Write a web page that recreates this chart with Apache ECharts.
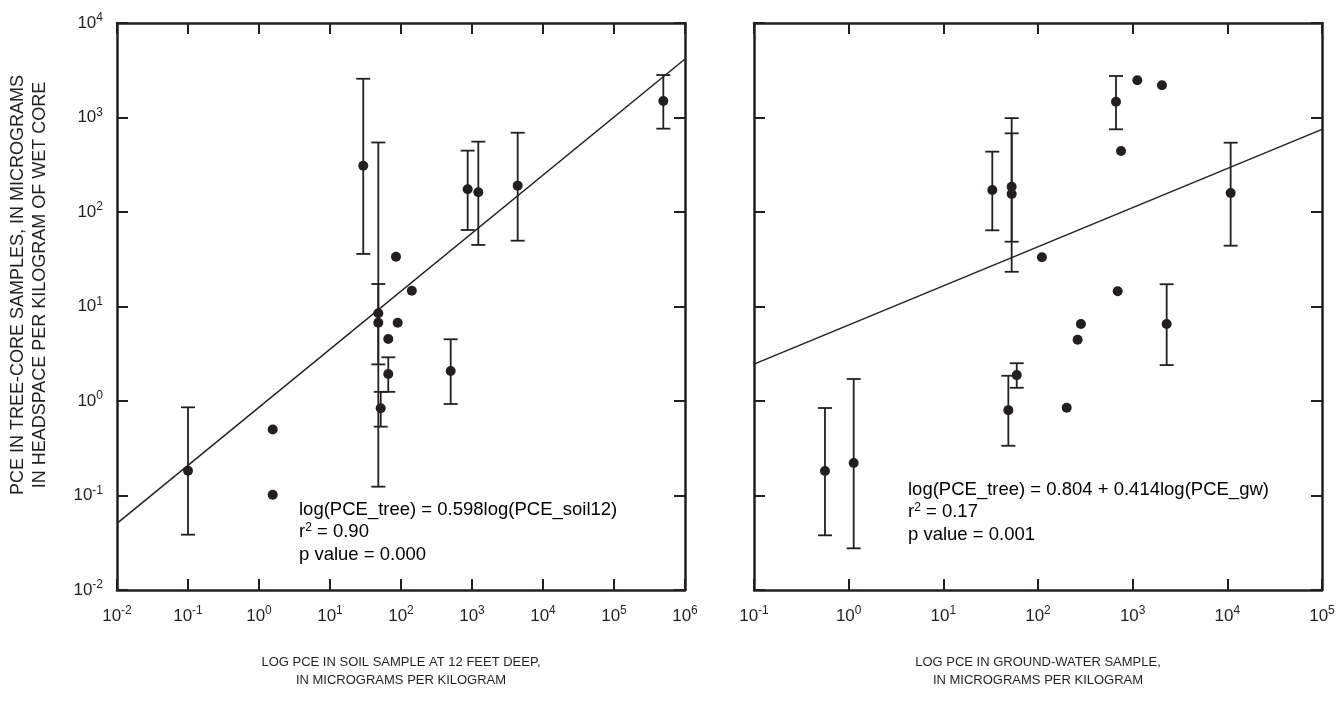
<!DOCTYPE html>
<html>
<head>
<meta charset="utf-8">
<script src="https://cdn.jsdelivr.net/npm/echarts@6/dist/echarts.min.js"></script>
<style>html,body{margin:0;padding:0;background:#fff}#c{width:1343px;height:702px}</style>
</head>
<body>
<div id="c"></div>
<script>
// ---- Data ----
// Left panel: soil at 12 ft vs tree core
const soilX = [0.1, 1.56, 1.56, 29.4, 47.9, 47.9, 51.8, 66.2, 66.2, 89.8, 85, 142, 501, 869, 1227, 4400, 495000];
const soilY = [0.183, 0.50, 0.102, 309, 8.47, 6.74, 0.837, 4.53, 1.93, 6.74, 33.6, 14.7, 2.08, 174, 162, 190, 1495];
const soilErrX    = [0.1, 29.4, 47.9, 47.9, 51.8, 66.2, 501, 869, 1227, 4400, 495000];
const soilErrLow  = [0.0385, 36, 0.124, 2.44, 0.535, 1.25, 0.93, 64.5, 44.8, 49.7, 762];
const soilErrHigh = [0.857, 2570, 544, 17.3, 1.25, 2.90, 4.5, 446, 555, 690, 2815];
const soilFitX = [0.01, 1e6];
const soilFitY = [0.0508, 4160];

// Right panel: ground water vs tree core
const gwX = [0.562, 1.13, 48.6, 59.6, 32.9, 52.7, 52.7, 110, 667, 1120, 2040, 753, 10840, 695, 2287, 284, 262, 201];
const gwY = [0.182, 0.221, 0.80, 1.88, 171, 185, 155, 33.2, 1470, 2474, 2190, 442, 159, 14.5, 6.53, 6.53, 4.45, 0.85];
const gwErrX    = [0.562, 1.13, 48.6, 59.6, 32.9, 52.7, 52.7, 667, 10840, 2287];
const gwErrLow  = [0.0379, 0.0276, 0.336, 1.38, 64, 48.5, 23.3, 750, 44, 2.40];
const gwErrHigh = [0.843, 1.71, 1.85, 2.51, 435, 680, 985, 2750, 541, 17.2];
const gwFitX = [0.1, 1e5];
const gwFitY = [2.455, 748];

const yRange = [0.01, 1e4];
const leftXRange = [0.01, 1e6];
const rightXRange = [0.1, 1e5];

const leftXTitle = 'LOG PCE IN SOIL SAMPLE AT 12 FEET DEEP,\nIN MICROGRAMS PER KILOGRAM';
const rightXTitle = 'LOG PCE IN GROUND-WATER SAMPLE,\nIN MICROGRAMS PER KILOGRAM';
const yTitle = 'PCE IN TREE-CORE SAMPLES, IN MICROGRAMS\nIN HEADSPACE PER KILOGRAM OF WET CORE';
const leftEq = ['log(PCE_tree) = 0.598log(PCE_soil12)', '0.90', '0.000'];
const rightEq = ['log(PCE_tree) = 0.804 + 0.414log(PCE_gw)', '0.17', '0.001'];

// ---- Styling ----
const INK = '#231f20';
const FONT = 'Liberation Sans, Arial, Helvetica, sans-serif';
const supRich = {
  b: {fontSize: 17, fontFamily: FONT, color: INK, lineHeight: 22},
  s: {fontSize: 12, fontFamily: FONT, color: INK, padding: [0, 0, 10, 0], lineHeight: 22}
};
function powLabel(v) {
  const e = Math.round(Math.log10(v));
  return '{b|10}{s|' + e + '}';
}
const zip = (a, b) => a.map((v, i) => [v, b[i]]);
const zip3 = (a, b, c) => a.map((v, i) => [v, b[i], c[i]]);

function xAxisDef(grid, range, pos, labels) {
  return {
    gridIndex: grid, type: 'log', logBase: 10, min: range[0], max: range[1], interval: 1,
    position: pos,
    axisLine: {show: true, onZero: false, lineStyle: {color: INK, width: 2.5}},
    axisTick: {show: true, inside: true, length: 11, lineStyle: {color: INK, width: 2}},
    minorTick: {show: false},
    splitLine: {show: false},
    axisLabel: {show: labels, margin: 15, formatter: powLabel, rich: supRich}
  };
}
function yAxisDef(grid, pos, labels) {
  return {
    gridIndex: grid, type: 'log', logBase: 10, min: yRange[0], max: yRange[1], interval: 1,
    position: pos,
    axisLine: {show: true, onZero: false, lineStyle: {color: INK, width: 2.5}},
    axisTick: {show: true, inside: true, length: 11, lineStyle: {color: INK, width: 2}},
    splitLine: {show: false},
    axisLabel: {show: labels, margin: 14, formatter: powLabel, rich: supRich}
  };
}

function renderErr(params, api) {
  const x = api.value(0), lo = api.value(1), hi = api.value(2);
  const p1 = api.coord([x, lo]);
  const p2 = api.coord([x, hi]);
  const w = 7;
  const st = {stroke: INK, lineWidth: 1.8};
  return {
    type: 'group',
    children: [
      {type: 'line', shape: {x1: p1[0], y1: p1[1], x2: p2[0], y2: p2[1]}, style: st},
      {type: 'line', shape: {x1: p1[0] - w, y1: p1[1], x2: p1[0] + w, y2: p1[1]}, style: st},
      {type: 'line', shape: {x1: p2[0] - w, y1: p2[1], x2: p2[0] + w, y2: p2[1]}, style: st}
    ]
  };
}

const eqRich = {
  t: {fontSize: 18.5, fontFamily: FONT, color: INK, lineHeight: 22.5},
  s: {fontSize: 12, fontFamily: FONT, color: INK, padding: [0, 0, 9, 0], lineHeight: 22.5}
};
function eqText(lines) {
  return '{t|' + lines[0] + '}\n{t|r}{s|2}{t| = ' + lines[1] + '}\n{t|p value = ' + lines[2] + '}';
}

const chart = echarts.init(document.getElementById('c'), null, {renderer: 'canvas'});
chart.setOption({
  backgroundColor: '#fff',
  animation: false,
  grid: [
    {left: 117, top: 23, width: 568, height: 567},
    {left: 754, top: 23, width: 568, height: 567}
  ],
  xAxis: [
    xAxisDef(0, leftXRange, 'bottom', true),
    xAxisDef(0, leftXRange, 'top', false),
    xAxisDef(1, rightXRange, 'bottom', true),
    xAxisDef(1, rightXRange, 'top', false)
  ],
  yAxis: [
    yAxisDef(0, 'left', true),
    yAxisDef(0, 'right', false),
    yAxisDef(1, 'left', false),
    yAxisDef(1, 'right', false)
  ],
  series: [
    {type: 'line', xAxisIndex: 0, yAxisIndex: 0, data: zip(soilFitX, soilFitY), symbol: 'none',
      lineStyle: {color: INK, width: 1.5}, silent: true, z: 2},
    {type: 'custom', xAxisIndex: 0, yAxisIndex: 0, renderItem: renderErr,
      data: zip3(soilErrX, soilErrLow, soilErrHigh), encode: {x: 0, y: [1, 2]}, z: 3},
    {type: 'scatter', xAxisIndex: 0, yAxisIndex: 0, data: zip(soilX, soilY), symbolSize: 10,
      itemStyle: {color: INK, opacity: 1}, z: 4},
    {type: 'line', xAxisIndex: 2, yAxisIndex: 2, data: zip(gwFitX, gwFitY), symbol: 'none',
      lineStyle: {color: INK, width: 1.5}, silent: true, z: 2},
    {type: 'custom', xAxisIndex: 2, yAxisIndex: 2, renderItem: renderErr,
      data: zip3(gwErrX, gwErrLow, gwErrHigh), encode: {x: 0, y: [1, 2]}, z: 3},
    {type: 'scatter', xAxisIndex: 2, yAxisIndex: 2, data: zip(gwX, gwY), symbolSize: 10,
      itemStyle: {color: INK, opacity: 1}, z: 4}
  ],
  graphic: [
    {type: 'text', left: 299, top: 500, style: {text: eqText(leftEq), rich: eqRich}},
    {type: 'text', left: 908, top: 480, style: {text: eqText(rightEq), rich: eqRich}},
    {type: 'text', x: 401, y: 671, style: {text: leftXTitle, fontSize: 13, fontFamily: FONT, fill: INK,
      align: 'center', verticalAlign: 'middle', lineHeight: 18}},
    {type: 'text', x: 1038, y: 671, style: {text: rightXTitle, fontSize: 13, fontFamily: FONT, fill: INK,
      align: 'center', verticalAlign: 'middle', lineHeight: 18}},
    {type: 'text', x: 29, y: 285, rotation: Math.PI / 2, style: {text: yTitle, fontSize: 18, fontFamily: FONT,
      fill: INK, align: 'center', verticalAlign: 'middle', lineHeight: 22}}
  ]
});
</script>
</body>
</html>
